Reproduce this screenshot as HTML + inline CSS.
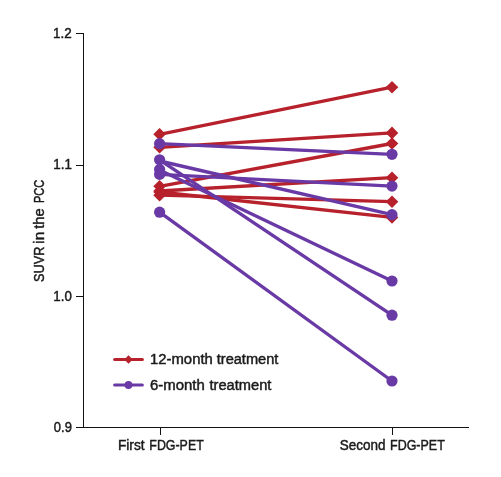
<!DOCTYPE html>
<html><head><meta charset="utf-8"><style>
html,body{margin:0;padding:0;background:#fff;}
body{width:501px;height:477px;overflow:hidden;}
svg{display:block;}
text{font-family:"Liberation Sans",sans-serif;font-size:14px;fill:#1a1a1a;stroke:#1a1a1a;stroke-width:0.45px;}
svg{will-change:transform;}
</style></head><body>
<svg width="501" height="477" viewBox="0 0 501 477">
<rect width="501" height="477" fill="#fff"/>
<!-- axes -->
<g fill="#111">
<rect x="83" y="33" width="1" height="395"/>
<rect x="83" y="427" width="386" height="1"/>
<rect x="76" y="33" width="7" height="1"/>
<rect x="76" y="165" width="7" height="1"/>
<rect x="76" y="296" width="7" height="1"/>
<rect x="76" y="427" width="7" height="1"/>
<rect x="160" y="427" width="1" height="8"/>
<rect x="392" y="427" width="1" height="8"/>
</g>
<!-- y tick labels -->
<text x="53.02" y="37.9" textLength="18.7" lengthAdjust="spacingAndGlyphs">1.2</text>
<text x="53.33" y="169.1" textLength="18.57" lengthAdjust="spacingAndGlyphs">1.1</text>
<text x="53.34" y="300.7" textLength="18.43" lengthAdjust="spacingAndGlyphs">1.0</text>
<text x="53.84" y="431.7" textLength="18.02" lengthAdjust="spacingAndGlyphs">0.9</text>
<!-- x labels -->
<text x="117.92" y="449.7" textLength="26.63" lengthAdjust="spacingAndGlyphs">First</text>
<text x="149.33" y="449.7" textLength="54.4" lengthAdjust="spacingAndGlyphs">FDG-PET</text>
<text x="339.63" y="449.7" textLength="45.79" lengthAdjust="spacingAndGlyphs">Second</text>
<text x="390.02" y="449.7" textLength="54.81" lengthAdjust="spacingAndGlyphs">FDG-PET</text>
<!-- y title -->
<text transform="translate(44,281.93) rotate(-90)" textLength="35.37" lengthAdjust="spacingAndGlyphs">SUVR</text>
<text transform="translate(44,243.68) rotate(-90)" textLength="11.92" lengthAdjust="spacingAndGlyphs">in</text>
<text transform="translate(44,228.77) rotate(-90)" textLength="20.48" lengthAdjust="spacingAndGlyphs">the</text>
<text transform="translate(44,203.06) rotate(-90)" textLength="23.33" lengthAdjust="spacingAndGlyphs">PCC</text>
<!-- red series -->
<g stroke="#b7212b" stroke-width="3.35" fill="none">
<line x1="159.6" y1="134.3" x2="392" y2="87.2"/>
<line x1="159.6" y1="147.3" x2="392" y2="132.9"/>
<line x1="159.6" y1="186.3" x2="392" y2="143.5"/>
<line x1="159.6" y1="191" x2="392" y2="177.7"/>
<line x1="159.6" y1="192" x2="392" y2="217.4"/>
<line x1="159.6" y1="195.2" x2="392" y2="201.7"/>
</g>
<g fill="#b7212b">
<path d="M159.6 128.0l6.3 6.3l-6.3 6.3l-6.3 -6.3z"/>
<path d="M392.0 80.9l6.3 6.3l-6.3 6.3l-6.3 -6.3z"/>
<path d="M159.6 141.0l6.3 6.3l-6.3 6.3l-6.3 -6.3z"/>
<path d="M392.0 126.6l6.3 6.3l-6.3 6.3l-6.3 -6.3z"/>
<path d="M159.6 180.0l6.3 6.3l-6.3 6.3l-6.3 -6.3z"/>
<path d="M392.0 137.2l6.3 6.3l-6.3 6.3l-6.3 -6.3z"/>
<path d="M159.6 184.7l6.3 6.3l-6.3 6.3l-6.3 -6.3z"/>
<path d="M392.0 171.4l6.3 6.3l-6.3 6.3l-6.3 -6.3z"/>
<path d="M159.6 185.7l6.3 6.3l-6.3 6.3l-6.3 -6.3z"/>
<path d="M392.0 211.1l6.3 6.3l-6.3 6.3l-6.3 -6.3z"/>
<path d="M159.6 188.9l6.3 6.3l-6.3 6.3l-6.3 -6.3z"/>
<path d="M392.0 195.4l6.3 6.3l-6.3 6.3l-6.3 -6.3z"/>
</g>
<!-- purple series -->
<g stroke="#693aa6" stroke-width="3.35" fill="none">
<line x1="159.6" y1="143.7" x2="392" y2="154.3"/>
<line x1="159.6" y1="161" x2="392" y2="214.7"/>
<line x1="159.6" y1="159.8" x2="392" y2="315.2"/>
<line x1="159.6" y1="170" x2="392" y2="281"/>
<line x1="159.6" y1="174.4" x2="392" y2="186.1"/>
<line x1="159.6" y1="212.2" x2="392" y2="381"/>
</g>
<g fill="#693aa6">
<circle cx="159.6" cy="143.7" r="5.6"/>
<circle cx="392" cy="154.3" r="5.6"/>
<circle cx="159.6" cy="159.8" r="5.6"/>
<circle cx="392" cy="214.7" r="5.6"/>
<circle cx="392" cy="315.2" r="5.6"/>
<circle cx="159.6" cy="169.5" r="5.6"/>
<circle cx="392" cy="281" r="5.6"/>
<circle cx="159.6" cy="174.4" r="5.6"/>
<circle cx="392" cy="186.1" r="5.6"/>
<circle cx="159.6" cy="212.2" r="5.6"/>
<circle cx="392" cy="381" r="5.6"/>
</g>
<!-- legend -->
<line x1="114.7" y1="359.5" x2="142.3" y2="359.5" stroke="#b7212b" stroke-width="3.2" stroke-linecap="round"/>
<path d="M128.5 355.3l4.2 4.2l-4.2 4.2l-4.2 -4.2z" fill="#b7212b"/>
<text x="150.01" y="364" textLength="62.8" lengthAdjust="spacingAndGlyphs">12-month</text>
<text x="216.73" y="364" textLength="61.67" lengthAdjust="spacingAndGlyphs">treatment</text>
<line x1="114.7" y1="385" x2="142.3" y2="385" stroke="#693aa6" stroke-width="3.2" stroke-linecap="round"/>
<circle cx="128.5" cy="385" r="3.9" fill="#693aa6"/>
<text x="149.99" y="389.8" textLength="54.83" lengthAdjust="spacingAndGlyphs">6-month</text>
<text x="209.53" y="389.8" textLength="61.92" lengthAdjust="spacingAndGlyphs">treatment</text>
</svg>
</body></html>
